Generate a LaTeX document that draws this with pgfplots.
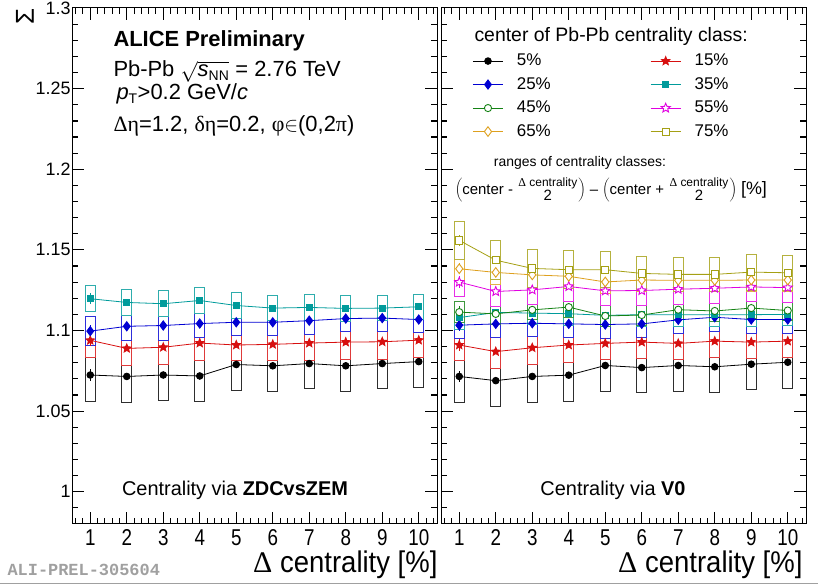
\documentclass[border=0pt]{standalone}
\usepackage{fontspec}
\setmainfont{Liberation Sans}
\newfontfamily\greekfont{Liberation Serif}
\newfontfamily\narrowfont[FakeStretch=0.82]{Liberation Sans}
\newfontfamily\labelfont[FakeStretch=0.92]{Liberation Sans}
\newfontfamily\monofont{Liberation Mono}
\usepackage{pgfplots}
\pgfplotsset{compat=1.18}
\usepackage{pgfplotstable}

\newcommand\fs[1]{\fontsize{#1}{#1}\selectfont}

\definecolor{c05}{RGB}{0,0,0}
\definecolor{c15}{RGB}{215,15,15}
\definecolor{c25}{RGB}{0,0,210}
\definecolor{c35}{RGB}{0,155,155}
\definecolor{c45}{RGB}{20,130,20}
\definecolor{c55}{RGB}{225,0,225}
\definecolor{c65}{RGB}{222,160,30}
\definecolor{c75}{RGB}{165,160,20}
\definecolor{tag}{RGB}{160,160,160}

% five-pointed star marker
\pgfdeclareplotmark{fstar}{%
  \pgfpathmoveto{\pgfpointpolar{90}{\pgfplotmarksize}}%
  \pgfpathlineto{\pgfpointpolar{126}{0.45\pgfplotmarksize}}%
  \pgfpathlineto{\pgfpointpolar{162}{\pgfplotmarksize}}%
  \pgfpathlineto{\pgfpointpolar{198}{0.45\pgfplotmarksize}}%
  \pgfpathlineto{\pgfpointpolar{234}{\pgfplotmarksize}}%
  \pgfpathlineto{\pgfpointpolar{270}{0.45\pgfplotmarksize}}%
  \pgfpathlineto{\pgfpointpolar{306}{\pgfplotmarksize}}%
  \pgfpathlineto{\pgfpointpolar{342}{0.45\pgfplotmarksize}}%
  \pgfpathlineto{\pgfpointpolar{18}{\pgfplotmarksize}}%
  \pgfpathlineto{\pgfpointpolar{54}{0.45\pgfplotmarksize}}%
  \pgfpathclose
  \pgfusepathqfillstroke}

% Sigma vs Delta centrality, centrality from ZDC vs ZEM
\pgfplotstableread{
x  y05    s05    y15    s15    y25    s25    y35    s35    st
1  1.0724 0.0166 1.0939 0.0110 1.0996 0.0093 1.1197 0.0085 0.0035
2  1.0715 0.0165 1.0889 0.0112 1.1026 0.0092 1.1174 0.0085 0.0015
3  1.0724 0.0164 1.0896 0.0111 1.1031 0.0095 1.1166 0.0085 0.0015
4  1.0718 0.0162 1.0922 0.0111 1.1043 0.0090 1.1186 0.0085 0.0015
5  1.0789 0.0162 1.0910 0.0100 1.1051 0.0088 1.1155 0.0083 0.0015
6  1.0781 0.0160 1.0914 0.0105 1.1051 0.0086 1.1139 0.0082 0.0015
7  1.0795 0.0160 1.0922 0.0110 1.1061 0.0086 1.1143 0.0082 0.0015
8  1.0781 0.0163 1.0928 0.0112 1.1074 0.0084 1.1137 0.0082 0.0015
9  1.0795 0.0160 1.0930 0.0112 1.1077 0.0084 1.1139 0.0082 0.0015
10 1.0807 0.0163 1.0940 0.0112 1.1068 0.0084 1.1147 0.0082 0.0015
}\tabzdc

% Sigma vs Delta centrality, centrality from V0
\pgfplotstableread{
x  y05    s05    y15    s15    y25    s25    y35    s35    y45    s45    y55    s55    y65    s65    y75    s75    st
1  1.0715 0.0163 1.0910 0.0100 1.1033 0.0085 1.1080 0.0075 1.1114 0.0066 1.1300 0.0095 1.1383 0.0075 1.1559 0.0123 0.0035
2  1.0689 0.0162 1.0869 0.0108 1.1041 0.0086 1.1112 0.0075 1.1103 0.0066 1.1242 0.0095 1.1360 0.0075 1.1436 0.0125 0.0015
3  1.0715 0.0162 1.0893 0.0110 1.1045 0.0088 1.1108 0.0075 1.1128 0.0066 1.1252 0.0095 1.1345 0.0075 1.1385 0.0120 0.0015
4  1.0723 0.0164 1.0910 0.0110 1.1041 0.0088 1.1104 0.0075 1.1145 0.0066 1.1273 0.0095 1.1336 0.0075 1.1377 0.0120 0.0015
5  1.0783 0.0164 1.0920 0.0105 1.1037 0.0088 1.1094 0.0075 1.1090 0.0066 1.1246 0.0095 1.1301 0.0075 1.1377 0.0115 0.0015
6  1.0770 0.0160 1.0928 0.0105 1.1041 0.0088 1.1098 0.0075 1.1096 0.0066 1.1248 0.0095 1.1313 0.0075 1.1354 0.0110 0.0015
7  1.0783 0.0162 1.0920 0.0105 1.1066 0.0090 1.1098 0.0075 1.1129 0.0066 1.1256 0.0095 1.1311 0.0075 1.1348 0.0110 0.0015
8  1.0775 0.0160 1.0934 0.0105 1.1082 0.0090 1.1098 0.0075 1.1121 0.0066 1.1262 0.0095 1.1311 0.0075 1.1348 0.0110 0.0015
9  1.0791 0.0160 1.0928 0.0105 1.1068 0.0090 1.1098 0.0075 1.1139 0.0066 1.1270 0.0095 1.1313 0.0075 1.1362 0.0115 0.0015
10 1.0803 0.0168 1.0934 0.0105 1.1068 0.0090 1.1100 0.0075 1.1124 0.0066 1.1266 0.0095 1.1313 0.0075 1.1358 0.0112 0.0015
}\tabvzero

% boxes of systematic uncertainty: a wide coloured bar with a white one
% inside it (1bp narrower on each side; 1bp = 0.00062 in y)
\newcommand\sysboxes[3]{%
  \addplot[forget plot, only marks, mark=none,
    error bars/.cd, y dir=both, y explicit, error mark=none,
    error bar style={solid, #3!82!white, line width=11bp}]
    table[x=x, y=y#2, y error=s#2] {#1};
  \addplot[forget plot, only marks, mark=none,
    error bars/.cd, y dir=both, y explicit, error mark=none,
    error bar style={solid, white, line width=9bp}]
    table[x=x, y=y#2, y error expr=\thisrow{s#2}-0.00062] {#1};}

% points with statistical errors: table, class, colour, marker, marker options
\newcommand\series[5]{%
  \addplot[color=#3, line width=0.8bp, mark=#4, mark options={solid, line width=0.9bp, #5},
    error bars/.cd, y dir=both, y explicit, error mark=none,
    error bar style={line width=0.8bp}]
    table[x=x, y=y#2, y error=st] {#1};}

% inward tick marks on all four sides of a panel
\newcommand\frameticks{%
  \pgfplotsinvokeforeach{0.6,0.8,...,10.41}{%
    \draw[line width=1bp] (axis cs:##1,0.98) -- ++(0bp,6bp);
    \draw[line width=1bp] (axis cs:##1,1.3) -- ++(0bp,-6bp);}
  \pgfplotsinvokeforeach{1,...,10}{%
    \draw[line width=1bp] (axis cs:##1,0.98) -- ++(0bp,12bp);
    \draw[line width=1bp] (axis cs:##1,1.3) -- ++(0bp,-12bp);}
  \pgfplotsinvokeforeach{0.99,1.00,...,1.291}{%
    \draw[line width=1bp] (axis cs:0.5,##1) -- ++(6bp,0bp);
    \draw[line width=1bp] (axis cs:10.5,##1) -- ++(-6bp,0bp);}
  \pgfplotsinvokeforeach{1,1.05,...,1.26}{%
    \draw[line width=1bp] (axis cs:0.5,##1) -- ++(12bp,0bp);
    \draw[line width=1bp] (axis cs:10.5,##1) -- ++(-12bp,0bp);}}

\pgfplotsset{
  panel/.style={
    scale only axis, width=365bp, height=516bp,
    anchor=south west,
    xmin=0.5, xmax=10.5, ymin=0.98, ymax=1.3,
    xtick={1,...,10}, minor x tick num=4,
    ytick={1,1.05,1.1,1.15,1.2,1.25,1.3}, minor y tick num=4,
    major tick length=0.42cm, minor tick length=0.21cm,
    tick align=inside, axis on top,
    tick style={draw=black, line width=1bp},
    axis line style={line width=1bp},
    /pgf/number format/assume math mode=true,
    xticklabel style={font=\narrowfont\fs{23}, yshift=-2bp},
    yticklabel style={font=\fs{18}, xshift=2bp},
  },
}

\begin{document}
\begin{tikzpicture}
\useasboundingbox (0,0) rectangle (818bp,585bp);

\begin{axis}[panel, at={(72bp,61bp)}]
  \frameticks
  \sysboxes{\tabzdc}{05}{c05}
  \sysboxes{\tabzdc}{15}{c15}
  \sysboxes{\tabzdc}{25}{c25}
  \sysboxes{\tabzdc}{35}{c35}
  \series{\tabzdc}{05}{c05}{*}{mark size=3.3bp, fill=c05}
  \series{\tabzdc}{15}{c15}{fstar}{mark size=4.4bp, fill=c15}
  \series{\tabzdc}{25}{c25}{diamond*}{mark size=4.6bp, fill=c25}
  \series{\tabzdc}{35}{c35}{square*}{mark size=3.1bp, fill=c35}
\end{axis}

\begin{axis}[panel, at={(441bp,61bp)}, yticklabels={},
  legend columns=2, legend cell align=left,
  legend image code/.code={%
    \draw[mark repeat=2, mark phase=2, #1]
      plot coordinates {(0bp,0bp) (15bp,0bp) (30bp,0bp)};},
  legend style={at={(rel axis cs:0.086,0.915)}, anchor=north west,
    draw=none, fill=none, inner sep=0pt, font=\fs{17}, row sep=5.5bp,
    cells={anchor=west},
    nodes={inner sep=1.5bp, text height=12bp, text depth=3bp},
    /tikz/every odd column/.append style={column sep=12bp},
    /tikz/every even column/.append style={column sep=98bp}}]
  \frameticks
  \sysboxes{\tabvzero}{05}{c05}
  \sysboxes{\tabvzero}{15}{c15}
  \sysboxes{\tabvzero}{25}{c25}
  \sysboxes{\tabvzero}{35}{c35}
  \sysboxes{\tabvzero}{45}{c45}
  \sysboxes{\tabvzero}{55}{c55}
  \sysboxes{\tabvzero}{65}{c65}
  \sysboxes{\tabvzero}{75}{c75}
  \series{\tabvzero}{05}{c05}{*}{mark size=3.3bp, fill=c05}
  \addlegendentry{5\%}
  \series{\tabvzero}{15}{c15}{fstar}{mark size=4.4bp, fill=c15}
  \addlegendentry{15\%}
  \series{\tabvzero}{25}{c25}{diamond*}{mark size=4.6bp, fill=c25}
  \addlegendentry{25\%}
  \series{\tabvzero}{35}{c35}{square*}{mark size=3.1bp, fill=c35}
  \addlegendentry{35\%}
  \series{\tabvzero}{45}{c45}{*}{mark size=3.6bp, fill=white}
  \addlegendentry{45\%}
  \series{\tabvzero}{55}{c55}{fstar}{mark size=4.8bp, fill=white}
  \addlegendentry{55\%}
  \series{\tabvzero}{65}{c65}{diamond*}{mark size=4.8bp, fill=white}
  \addlegendentry{65\%}
  \series{\tabvzero}{75}{c75}{square*}{mark size=3.6bp, fill=white}
  \addlegendentry{75\%}
\end{axis}

% y-axis title
\node[rotate=90, font=\fs{26}] at (25bp,568bp) {Σ};

% x-axis titles
\node[anchor=base east, font=\labelfont\fs{30}] at (441bp,13bp) {{\greekfont Δ} centrality [\%]};
\node[anchor=base east, font=\labelfont\fs{30}] at (806bp,13bp) {{\greekfont Δ} centrality [\%]};

% header text
\node[anchor=base west, font=\bfseries\fs{22}] at (110bp,538bp) {ALICE Preliminary};
\node[anchor=base west, font=\fs{22}] at (110bp,508bp)
  {Pb-Pb \smash{$\sqrt{\mbox{\itshape s}_{\mbox{\fs{14}NN}}}$} = 2.76 TeV};
\node[anchor=base west, font=\fs{22}] at (113bp,485bp)
  {\itshape p\upshape$_{\mbox{\fs{14}T}}$>0.2 GeV/\itshape c};
\node[anchor=base west, font=\fs{22}] at (110bp,453bp)
  {{\greekfont Δη}=1.2, {\greekfont δη}=0.2, {\greekfont φ}$\in$(0,2{\greekfont π})};

% panel captions
\node[anchor=base, font=\fs{20}] at (235bp,89bp) {Centrality via \textbf{ZDCvsZEM}};
\node[anchor=base, font=\fs{20}] at (613bp,89bp) {Centrality via \textbf{V0}};

% legend heading and class ranges
\node[anchor=base west, font=\fs{19.5}] at (471bp,543bp) {center of Pb-Pb centrality class:};
\node[anchor=base, font=\fs{14}] at (580bp,418bp) {ranges of centrality classes:};
\node[font=\fs{15}] at (611bp,395bp)
  {$\left(\mbox{center - }{\mbox{\fs{12}{\greekfont Δ} centrality}\atop\mbox{\fs{15}2}}\right)$
   -- $\left(\mbox{center + }{\mbox{\fs{12}{\greekfont Δ} centrality}\atop\mbox{\fs{15}2}}\right)$ {\fs{18}[\%]}};

% preliminary tag and bottom rule
\node[anchor=base west, font=\monofont\bfseries\fs{17}, text=tag] at (4bp,10bp) {ALI-PREL-305604};
\draw[tag, line width=1bp] (0bp,1.5bp) -- (818bp,1.5bp);
\end{tikzpicture}
\end{document}
